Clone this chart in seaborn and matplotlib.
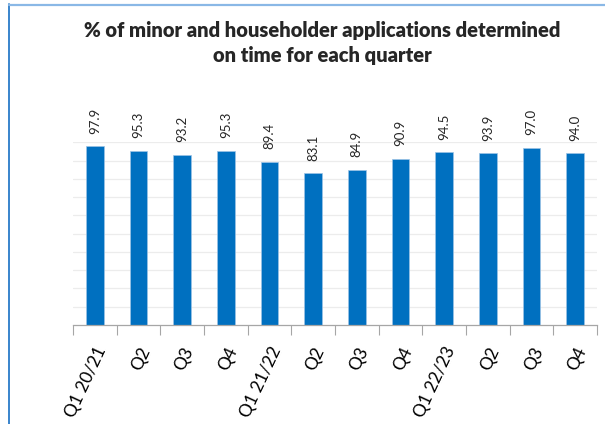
import numpy as np
import matplotlib
matplotlib.use("Agg")
import matplotlib.pyplot as plt
from matplotlib.lines import Line2D
import seaborn as sns

quarters = ["Q1 20/21", "Q2", "Q3", "Q4",
            "Q1 21/22", "Q2", "Q3", "Q4",
            "Q1 22/23", "Q2", "Q3", "Q4"]
pct_on_time = [97.9, 95.3, 93.2, 95.3, 89.4, 83.1, 84.9, 90.9, 94.5, 93.9, 97.0, 94.0]
title = "% of minor and householder applications determined\non time for each quarter"

sns.set_theme(style="white")
plt.rcParams["font.family"] = ["Lato", "DejaVu Sans"]

fig = plt.figure(figsize=(6.05, 4.24), dpi=100)
ax = fig.add_axes([73 / 605, 1 - 325 / 424, (597 - 73) / 605, (325 - 142.3) / 424])

pos = np.arange(len(pct_on_time))
sns.barplot(x=pos, y=pct_on_time, color="#0070C0", width=0.4,
            edgecolor="#9dc3e6", linewidth=0.5, saturation=1, ax=ax)

ax.set_ylim(0, 100)
ax.set_xlim(-0.5, len(pct_on_time) - 0.5)
ax.set_yticks(np.arange(10, 101, 10))
ax.yaxis.grid(True, color="#ececec", linewidth=0.9)
ax.set_axisbelow(True)
ax.tick_params(axis="y", left=False, labelleft=False)

# category boundaries carry the tick marks, centres carry the labels
ax.set_xticks(np.arange(-0.5, len(pct_on_time), 1))
ax.set_xticklabels([])
ax.set_xticks(pos, minor=True)
ax.set_xticklabels(quarters, minor=True, rotation=65, ha="right",
                   rotation_mode="anchor", fontsize=12.5, color="#000000")
ax.tick_params(axis="x", which="major", bottom=True, length=7, width=0.8,
               color="#a6a6a6", direction="out")
ax.tick_params(axis="x", which="minor", bottom=False, length=0, pad=14)

for side in ["top", "right", "left"]:
    ax.spines[side].set_visible(False)
ax.spines["bottom"].set_color("#a6a6a6")
ax.spines["bottom"].set_linewidth(0.9)
ax.set_xlabel("")
ax.set_ylabel("")

ax.bar_label(ax.containers[0], fmt="%.1f", rotation=90, padding=9,
             fontsize=9.5, color="#262626")

fig.text(322 / 605, 1 - 43 / 424, title, ha="center", va="center",
         fontsize=14.5, fontweight="heavy", linespacing=1.42)

# chart frame
fig.add_artist(Line2D([9 / 605, 9 / 605], [0, 1 - 4 / 424],
                      transform=fig.transFigure, color="#2a7bc8", linewidth=1.3))
fig.add_artist(Line2D([9 / 605, 1], [1 - 5 / 424, 1 - 5 / 424],
                      transform=fig.transFigure, color="#8ab8e6", linewidth=1.6))

fig.savefig("out.png", dpi=100)
